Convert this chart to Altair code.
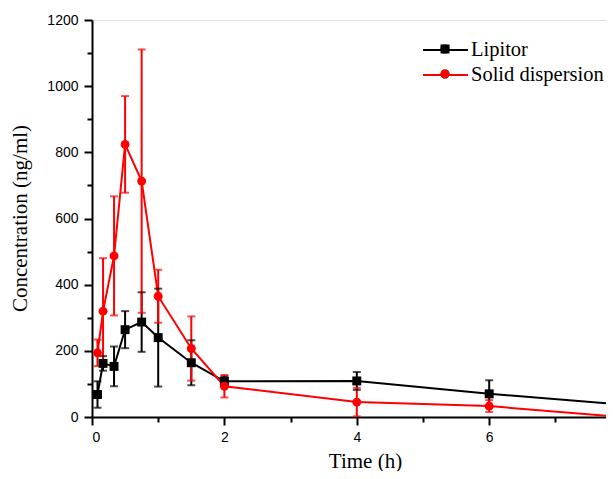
import altair as alt
import pandas as pd

# ---- data ----
time_h = [0.083, 0.167, 0.333, 0.5, 0.75, 1, 1.5, 2, 4, 6, 8]
lipitor = [68, 162, 153, 264, 287, 240, 164, 108, 109, 70, 38]
lipitor_sd = [40, 22, 60, 56, 90, 148, 68, 15, 27, 41, 0]
solid = [194, 320, 487, 824, 713, 365, 207, 93, 45, 33, 0]
solid_sd = [40, 160, 180, 146, 398, 80, 97, 34, 43, 18, 0]

series_names = ["Lipitor", "Solid dispersion"]
series_colors = ["#000000", "#ff0000"]
series_shapes = ["square", "circle"]

x_major = [0, 2, 4, 6]
x_minor = [1, 3, 5, 7]
y_major = [0, 200, 400, 600, 800, 1000, 1200]
y_minor = [100, 300, 500, 700, 900, 1100]

rows = []
for name, vals, sds in [("Lipitor", lipitor, lipitor_sd), ("Solid dispersion", solid, solid_sd)]:
    for t, v, s in zip(time_h, vals, sds):
        rows.append({"t": t, "c": v, "lo": v - s, "hi": v + s, "series": name,
                     "marker": name, "has_err": s > 0})
df = pd.DataFrame(rows)

PLOT_W = 514
PLOT_H = 397
xscale = alt.Scale(domain=[0, PLOT_W / 66.2], nice=False, zero=False)
yscale = alt.Scale(domain=[0, 1200], nice=False)
cscale = alt.Scale(domain=series_names, range=series_colors)
color = alt.Color("series:N", scale=cscale, legend=None)

serif = "Liberation Serif"
sans = "Liberation Sans"

x_axis = alt.Axis(values=x_major, tickSize=8, tickWidth=2, domainWidth=2, domainColor="black",
                  tickColor="black", labelFont=sans, labelFontSize=14, labelColor="black",
                  labelPadding=5, title="Time (h)", titleFont=serif, titleFontSize=21,
                  titleFontWeight="normal", titleColor="black", titleX=273, titleY=50,
                  titleBaseline="alphabetic", titleAlign="center", grid=False, orient="bottom")
y_axis = alt.Axis(values=y_major, format="d", tickSize=8, tickWidth=2, domainWidth=2,
                  domainColor="black", tickColor="black", labelFont=sans, labelFontSize=14,
                  labelColor="black", labelPadding=6, title="Concentration (ng/ml)",
                  titleFont=serif, titleFontSize=21, titleFontWeight="normal", titleColor="black",
                  titleX=-66, titleY=198, titleBaseline="alphabetic", titleAlign="center",
                  titleAngle=270, grid=False, orient="left")
x_minor_axis = alt.Axis(values=x_minor, tickSize=5, tickWidth=2, tickColor="black", domain=False,
                        labels=False, title=None, grid=False, orient="bottom")
y_minor_axis = alt.Axis(values=y_minor, tickSize=5, tickWidth=2, tickColor="black", domain=False,
                        labels=False, title=None, grid=False, orient="left")


def line_legend(legend_y):
    # one-entry legend for one line: coloured stroke + text
    return alt.Legend(title=None, orient="none", legendX=330, legendY=legend_y,
                      symbolType="stroke", symbolSize=2025, symbolStrokeWidth=2,
                      labelFont=serif, labelFontSize=20.5, labelColor="black",
                      labelOffset=2, padding=0)


# legend of the markers: drawn on top of the strokes, no visible text
marker_legend = alt.Legend(title=None, orient="none", legendX=342.5, legendY=18.5,
                           symbolSize=81, symbolStrokeWidth=0, symbolOpacity=1,
                           labelFont=serif, labelFontSize=21, labelOpacity=0,
                           rowPadding=3, padding=0)

base = alt.Chart(df)

line_layers = []
for i, (name, col) in enumerate(zip(series_names, series_colors)):
    line_layers.append(
        base.transform_filter(alt.datum.series == name).mark_line(strokeWidth=2, clip=True).encode(
            x=alt.X("t:Q", scale=xscale, axis=x_axis if i == 0 else None),
            y=alt.Y("c:Q", scale=yscale, axis=y_axis if i == 0 else None),
            color=alt.Color("series:N", scale=alt.Scale(domain=[name], range=[col]),
                            legend=line_legend(6.5 + 25 * i)),
        )
    )

errd = base.transform_filter("datum.has_err")
err = errd.mark_rule(strokeWidth=2, clip=True).encode(
    x=alt.X("t:Q", scale=xscale, axis=x_minor_axis),
    y=alt.Y("lo:Q", scale=yscale, axis=y_minor_axis),
    y2="hi:Q",
    color=color,
)
cap_hi = errd.mark_tick(orient="horizontal", size=8, thickness=2, clip=True).encode(
    x=alt.X("t:Q", scale=xscale, axis=None),
    y=alt.Y("hi:Q", scale=yscale, axis=None),
    color=color,
)
cap_lo = errd.mark_tick(orient="horizontal", size=8, thickness=2, clip=True).encode(
    x=alt.X("t:Q", scale=xscale, axis=None),
    y=alt.Y("lo:Q", scale=yscale, axis=None),
    color=color,
)

points = base.mark_point(filled=True, opacity=1, size=80, clip=True).encode(
    x=alt.X("t:Q", scale=xscale, axis=None),
    y=alt.Y("c:Q", scale=yscale, axis=None),
    color=alt.Color("marker:N", scale=alt.Scale(domain=series_names, range=series_colors),
                    legend=marker_legend),
    shape=alt.Shape("marker:N", scale=alt.Scale(domain=series_names, range=series_shapes),
                    legend=marker_legend),
)

chart = alt.layer(*line_layers, err, cap_hi, cap_lo, points).resolve_axis(
    x="independent", y="independent"
).resolve_scale(color="independent").properties(
    width=PLOT_W, height=PLOT_H,
    autosize=alt.AutoSizeParams(type="none"),
    padding={"left": 84, "top": 12, "right": 0, "bottom": 54},
).configure_view(stroke=None).configure(background="white")

chart.save("out.html", embed_options={"renderer": "svg", "actions": False})
